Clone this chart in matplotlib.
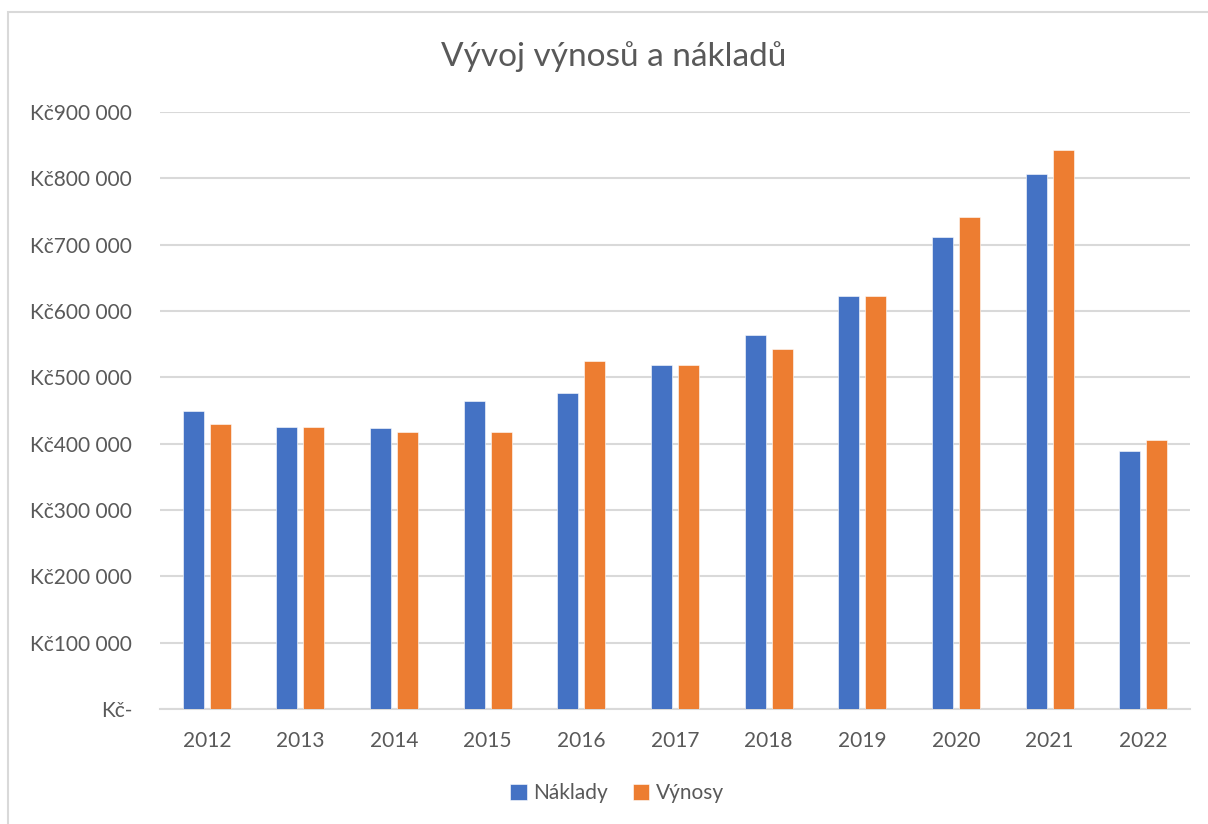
import matplotlib
matplotlib.use("Agg")
import matplotlib.pyplot as plt
import numpy as np
from matplotlib.patches import Rectangle
from matplotlib.ticker import FuncFormatter

# --- data (odhad z grafu) ---
years = ["2012", "2013", "2014", "2015", "2016", "2017",
         "2018", "2019", "2020", "2021", "2022"]
naklady = [449000, 425000, 424000, 465000, 477000, 518000,
           564000, 622000, 712000, 806000, 389000]
vynosy = [429000, 425000, 417000, 417000, 525000, 518000,
          542000, 622000, 741000, 843000, 406000]

C_BLUE = "#4472C4"
C_ORANGE = "#ED7D31"
C_TEXT = "#595959"
C_GRID = "#D9D9D9"

plt.rcParams["font.family"] = ["Lato", "DejaVu Sans"]

fig = plt.figure(figsize=(12.08, 8.24), dpi=100)
ax = fig.add_axes([160 / 1208, 1 - 709 / 824, 1030 / 1208, 597 / 824])

# ramecek grafu
fig.patches.append(Rectangle((8 / 1208, -0.1), 1.2, 1 - 12 / 824 + 0.1,
                             transform=fig.transFigure, fill=False,
                             edgecolor=C_GRID, lw=1.5))

x = np.arange(len(years))
w = 0.224
off = 0.144
ax.bar(x - off, naklady, w, color=C_BLUE, label="Náklady",
       edgecolor="white", linewidth=0.4, zorder=3)
ax.bar(x + off, vynosy, w, color=C_ORANGE, label="Výnosy",
       edgecolor="white", linewidth=0.4, zorder=3)

ax.set_xlim(-0.5, len(years) - 0.5)
ax.set_ylim(0, 900000)
ax.set_yticks(np.arange(0, 900001, 100000))


def kc(v, pos):
    if v == 0:
        return "Kč-"
    return "Kč" + f"{int(v):,}".replace(",", " ")


ax.yaxis.set_major_formatter(FuncFormatter(kc))
ax.set_xticks(x)
ax.set_xticklabels(years)
ax.tick_params(axis="both", length=0, labelsize=15, colors=C_TEXT)
ax.tick_params(axis="y", pad=20)
ax.tick_params(axis="x", pad=16)

ax.grid(axis="y", color=C_GRID, lw=1.5, zorder=0)
for s in ["top", "right", "left"]:
    ax.spines[s].set_visible(False)
ax.spines["bottom"].set_color(C_GRID)
ax.spines["bottom"].set_linewidth(1.5)

fig.text(614 / 1208, 1 - 57 / 824, "Vývoj výnosů a nákladů",
         ha="center", va="center", fontsize=24, color=C_TEXT)

fig.legend(loc="center", bbox_to_anchor=(617 / 1208, 1 - 793 / 824),
           ncol=2, frameon=False, fontsize=15, labelcolor=C_TEXT,
           handlelength=0.8, handleheight=0.8, handletextpad=0.3,
           columnspacing=1.2)

fig.savefig("out.png", dpi=100)
